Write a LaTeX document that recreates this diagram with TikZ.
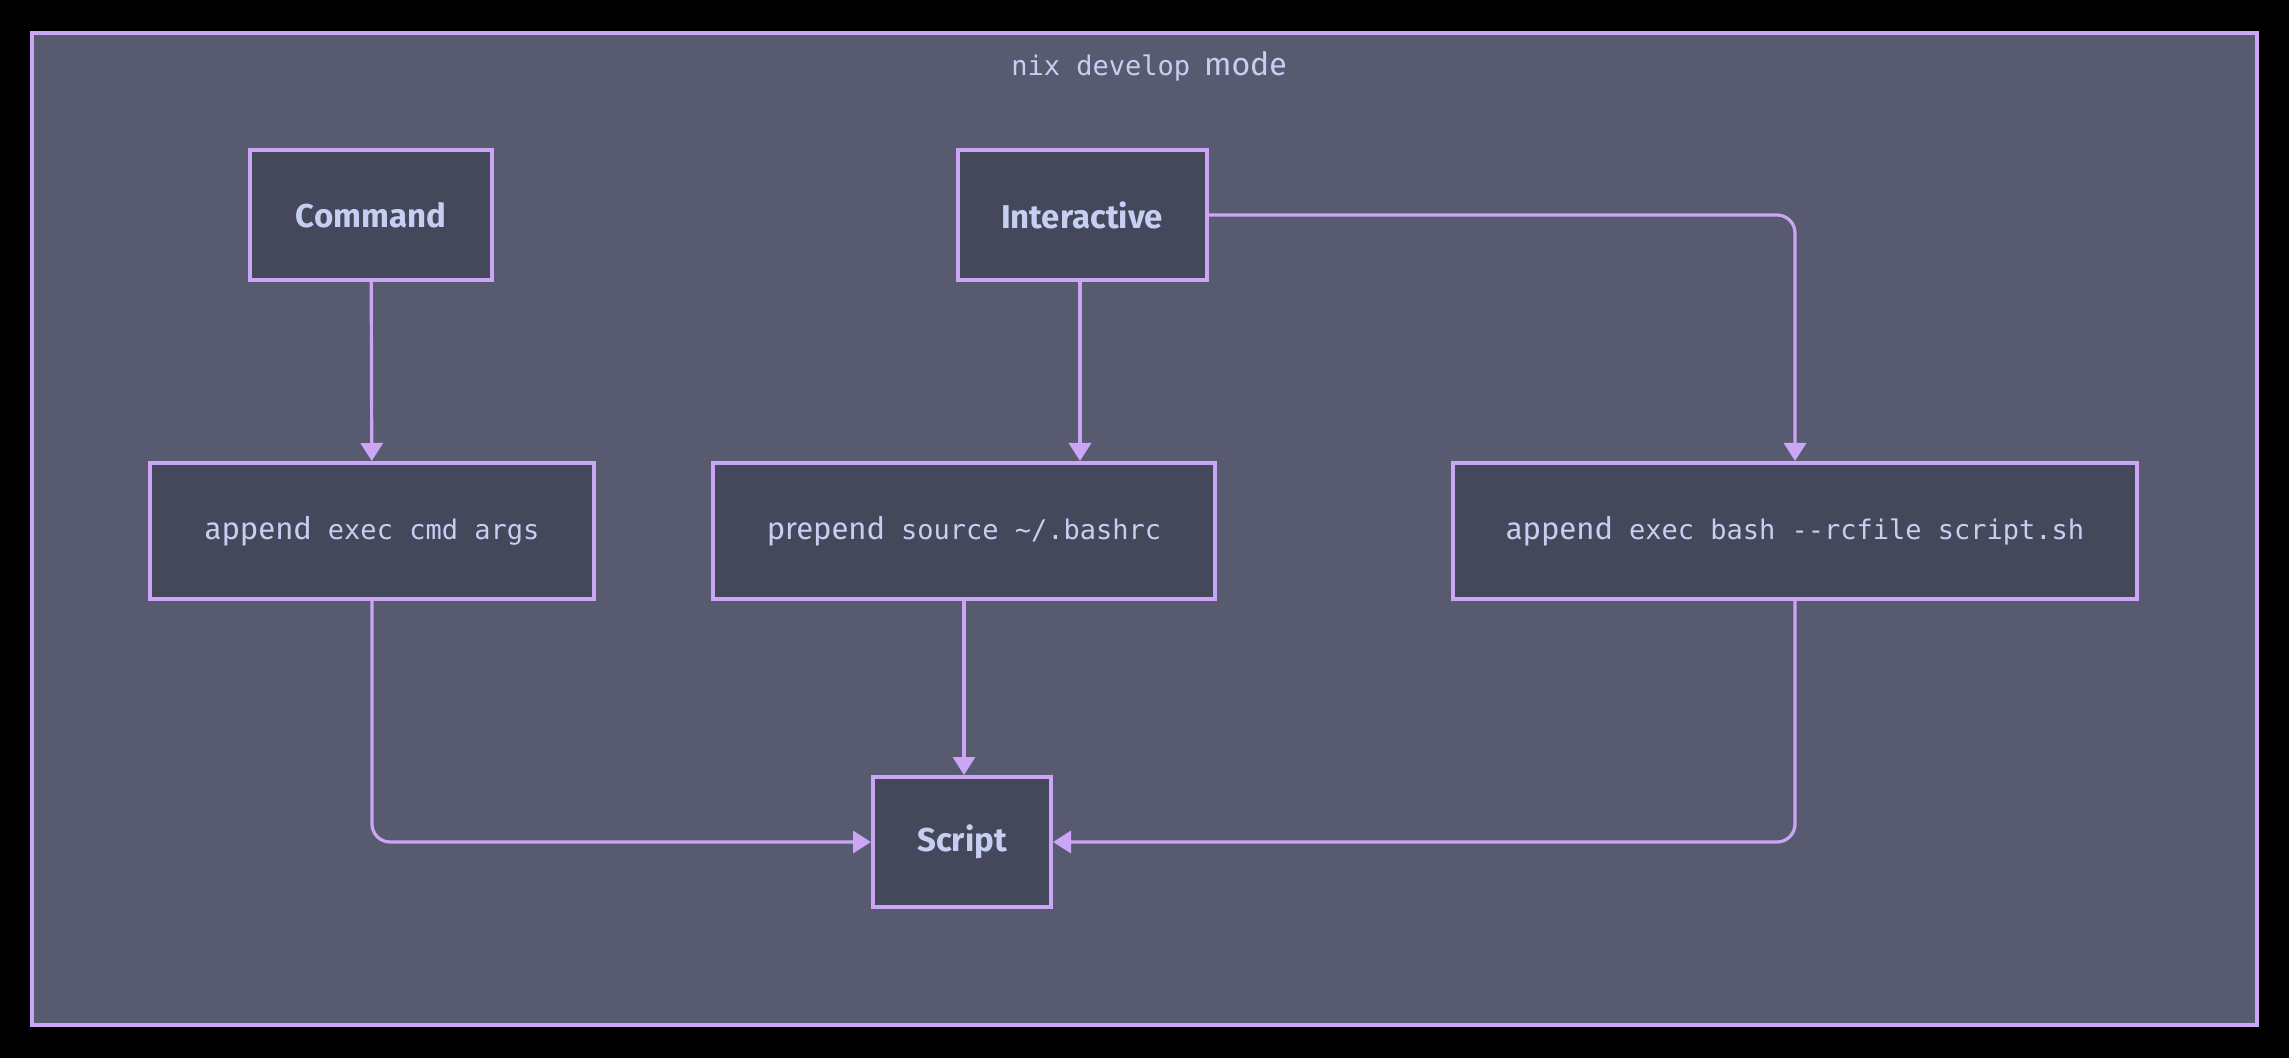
\documentclass[tikz,border=0pt]{standalone}
\usepackage{fontspec}
\setsansfont{Fira Sans}
\setmonofont{DejaVu Sans Mono}
\usetikzlibrary{arrows.meta}

\newcommand{\code}[1]{{\fontsize{13.5}{16}\selectfont\ttfamily #1}}

\begin{document}
\begin{tikzpicture}[x=0.5pt, y=-0.5pt,
    box/.style={draw=edgeColour, fill=boxColour, line width=2pt, text=textColour,
        inner sep=0pt, minimum height=65pt, font=\sffamily\fontsize{16.5}{19}\selectfont},
    wide/.style={box, minimum height=68pt, font=\sffamily\fontsize{15.5}{19}\selectfont},
    flow/.style={draw=edgeColour, line width=1.6pt, rounded corners=9pt,
        -{Triangle[width=11pt,length=9pt]}}]
    % Define colours
    \definecolor{edgeColour}{HTML}{CBA6F7}
    \definecolor{frameColour}{HTML}{585B70}
    \definecolor{boxColour}{HTML}{45475A}
    \definecolor{textColour}{HTML}{C6CFF2}

    % Background and frame
    \fill[black] (0,0) rectangle (2289,1058);
    \filldraw[fill=frameColour, draw=edgeColour, line width=2pt] (32,33) rectangle (2257,1025);
    \node[text=textColour] (title) at (1149,66)
        {\code{nix develop}\hspace{7pt}{\sffamily\fontsize{16}{20}\selectfont mode}};

    % Top row
    \node[box, minimum width=121pt] (command) at (371,215) {\bfseries Command};
    \node[box, minimum width=124.5pt] (interactive) at (1082,215) {\bfseries Interactive};

    % Middle row
    \node[wide, minimum width=222pt] (appendCmd) at (372,531) {append\hspace{8pt}\code{exec cmd args}};
    \node[wide, minimum width=251pt] (prependRc) at (964,531) {prepend\hspace{8pt}\code{source \textasciitilde/.bashrc}};
    \node[wide, minimum width=342pt] (appendBash) at (1795,531) {append\hspace{8pt}\code{exec bash -{}-rcfile script.sh}};

    % Bottom row
    \node[box, minimum width=89pt] (script) at (962,842) {\bfseries Script};

    % Connectors
    \draw[flow] (command) -- (appendCmd);
    \draw[flow] ([xshift=-1pt]interactive.south) -- ([xshift=-1pt]interactive.south |- prependRc.north);
    \draw[flow] (interactive.east) -| (appendBash.north);
    \draw[flow] (prependRc.south) -- (prependRc.south |- script.north);
    \draw[flow] (appendCmd.south) |- (script.west);
    \draw[flow] (appendBash.south) |- (script.east);
\end{tikzpicture}
\end{document}
